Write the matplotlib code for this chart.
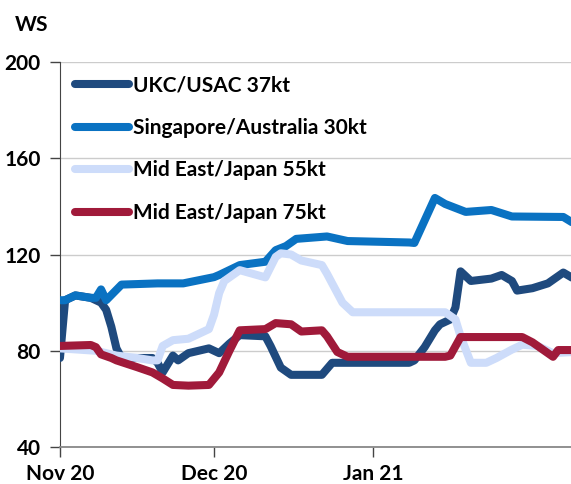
import pandas as pd
import matplotlib.pyplot as plt
import matplotlib.dates as mdates

plt.rcParams['font.family'] = ['Lato', 'DejaVu Sans']

# UKC/USAC 37kt
ukc_dates = ['2020-11-01', '2020-11-02', '2020-11-04', '2020-11-07', '2020-11-09', '2020-11-10',
             '2020-11-11', '2020-11-12', '2020-11-13', '2020-11-16', '2020-11-19', '2020-11-20',
             '2020-11-21', '2020-11-23', '2020-11-24', '2020-11-26', '2020-11-30', '2020-12-02',
             '2020-12-04', '2020-12-06', '2020-12-11', '2020-12-12', '2020-12-14', '2020-12-16',
             '2020-12-22', '2020-12-24', '2021-01-08', '2021-01-09', '2021-01-11', '2021-01-13',
             '2021-01-14', '2021-01-16', '2021-01-17', '2021-01-18', '2021-01-20', '2021-01-24',
             '2021-01-26', '2021-01-28', '2021-01-29', '2021-02-01', '2021-02-04', '2021-02-07',
             '2021-02-09']
ukc_ws = [77, 101, 103, 102, 100, 97, 90, 81, 77, 77, 77, 75, 71, 78, 76, 79, 81, 79,
          83, 86.5, 86, 82, 73, 70, 70, 75, 75, 76, 81.5, 88.5, 91, 93, 98, 113, 109, 110,
          111.5, 109, 105, 106, 108, 112.5, 110]

# Singapore/Australia 30kt
sing_dates = ['2020-11-01', '2020-11-02', '2020-11-04', '2020-11-07', '2020-11-08', '2020-11-09',
              '2020-11-10', '2020-11-13', '2020-11-20', '2020-11-25', '2020-12-01', '2020-12-02',
              '2020-12-06', '2020-12-11', '2020-12-13', '2020-12-15', '2020-12-17', '2020-12-20',
              '2020-12-23', '2020-12-27', '2021-01-08', '2021-01-09', '2021-01-13', '2021-01-15',
              '2021-01-19', '2021-01-24', '2021-01-28', '2021-02-07', '2021-02-09']
sing_ws = [101, 101, 103, 102, 102, 105.5, 101, 107.5, 108, 108, 110.6, 111.5, 115.6, 117,
           121.8, 123.5, 126.5, 127, 127.5, 125.6, 125, 124.8, 143.5, 141, 137.7, 138.5,
           135.8, 135.6, 133]

# Mid East/Japan 55kt
me55_dates = ['2020-11-01', '2020-11-08', '2020-11-12', '2020-11-16', '2020-11-19', '2020-11-20',
              '2020-11-21', '2020-11-23', '2020-11-26', '2020-11-30', '2020-12-01', '2020-12-02',
              '2020-12-03', '2020-12-06', '2020-12-11', '2020-12-13', '2020-12-14', '2020-12-16',
              '2020-12-18', '2020-12-22', '2020-12-23', '2020-12-26', '2020-12-28', '2021-01-15',
              '2021-01-17', '2021-01-18', '2021-01-20', '2021-01-23', '2021-01-25', '2021-01-28',
              '2021-01-30', '2021-02-02', '2021-02-05', '2021-02-09']
me55_ws = [81, 80, 78, 77, 76, 76, 82, 84.4, 85, 89, 95, 104, 109, 113.5, 110.5, 119,
           120.5, 120, 117.5, 115.6, 112, 100, 96, 96, 93, 86, 75, 75, 77, 80.5, 82.5, 82,
           79, 79.5]

# Mid East/Japan 75kt
me75_dates = ['2020-11-01', '2020-11-07', '2020-11-08', '2020-11-09', '2020-11-11', '2020-11-12',
              '2020-11-16', '2020-11-19', '2020-11-21', '2020-11-23', '2020-11-26', '2020-11-30',
              '2020-12-02', '2020-12-04', '2020-12-06', '2020-12-11', '2020-12-13', '2020-12-16',
              '2020-12-18', '2020-12-22', '2020-12-23', '2020-12-25', '2020-12-27', '2021-01-15',
              '2021-01-16', '2021-01-18', '2021-01-30', '2021-02-01', '2021-02-05', '2021-02-06',
              '2021-02-09']
me75_ws = [82, 82.4, 81.5, 78.5, 77, 76, 73.2, 71, 68.5, 65.8, 65.5, 65.8, 71, 80, 88.5,
           89, 91.5, 91, 88, 88.5, 86, 79.5, 77.5, 77.5, 78, 85.7, 85.7, 83.5, 77.5, 80.3,
           80.3]

series = [
    ('UKC/USAC 37kt', ukc_dates, ukc_ws, '#1f4a7e'),
    ('Singapore/Australia 30kt', sing_dates, sing_ws, '#0a72c2'),
    ('Mid East/Japan 55kt', me55_dates, me55_ws, '#cddcfa'),
    ('Mid East/Japan 75kt', me75_dates, me75_ws, '#a01a3a'),
]

fig = plt.figure(figsize=(5.71, 4.84), dpi=100)
ax = fig.add_axes([0.105, 0.0764, 0.895, 0.7955])

# light line first so the darker ones sit on top like the original
order = [2, 1, 3, 0]
lines = {}
for i in order:
    name, d, v, c = series[i]
    ln, = ax.plot(pd.to_datetime(d), v, color=c, lw=5.8, label=name,
                  solid_capstyle='round', solid_joinstyle='round', zorder=3 + i * 0.1)
    lines[i] = ln

ax.set_ylim(40, 200)
ax.set_yticks([40, 80, 120, 160, 200])
ax.set_xlim(pd.Timestamp('2020-11-01'), pd.Timestamp('2021-02-08 12:00'))
ax.set_xticks(pd.to_datetime(['2020-11-01', '2020-12-01', '2021-01-01']))
ax.xaxis.set_major_formatter(mdates.DateFormatter('%b %y'))

ax.grid(axis='y', color='#cccccc', lw=1)
ax.set_axisbelow(True)
for s in ['top', 'right']:
    ax.spines[s].set_visible(False)
ax.spines['left'].set_color('#444444')
ax.spines['bottom'].set_color('#888888')
ax.spines['bottom'].set_linewidth(1.3)
ax.tick_params(axis='y', length=7, width=1, color='#444444', pad=7, labelsize=15)
ax.tick_params(axis='x', length=7, width=1, color='#444444', pad=5, labelsize=15)
for lab in ax.get_xticklabels() + ax.get_yticklabels():
    lab.set_fontweight('bold')

fig.text(0.026, 0.948, 'WS', fontsize=15, fontweight='bold', va='center', ha='left')

leg = ax.legend([lines[i] for i in range(4)], [s[0] for s in series],
                loc='upper left', bbox_to_anchor=(0.0, 1.003), frameon=False,
                prop={'size': 15, 'weight': 'bold'}, handlelength=2.6,
                handletextpad=0.2, labelspacing=1.08, borderaxespad=0.3)

fig.savefig('out.png', dpi=100)
